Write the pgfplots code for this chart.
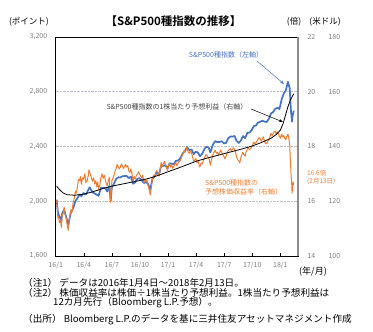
\documentclass[border=0pt]{standalone}
\usepackage{fontspec}
\setmainfont{Noto Sans CJK JP}[BoldFont={Noto Sans CJK JP Bold}]
\usepackage{pgfplots}
\pgfplotsset{compat=1.18}
\usepackage{pgfplotstable}
\usetikzlibrary{arrows.meta}
\definecolor{spblue}{RGB}{68,114,196}
\definecolor{sporange}{RGB}{237,125,49}
\definecolor{tickgray}{RGB}{128,128,128}
\definecolor{txtgray}{RGB}{64,64,64}
\definecolor{gridgray}{RGB}{185,190,200}
\definecolor{framegray}{RGB}{140,140,140}

% S&P500 index (left axis), x = months since 2016/1
\pgfplotstableread{
x y
0.10 2012
0.23 1922
0.39 1890
0.61 1859
0.68 1907
0.90 1940
1.14 1880
1.34 1829
1.62 1918
1.86 1948
2.10 2000
2.32 2022
2.55 2050
2.74 2036
2.97 2060
3.23 2048
3.47 2081
3.63 2102
3.93 2065
4.16 2057
4.39 2047
4.58 2040
4.84 2099
5.07 2099
5.30 2096
5.50 2071
5.73 2113
5.87 2001
6.00 2103
6.23 2130
6.45 2162
6.68 2175
6.90 2174
7.13 2183
7.35 2184
7.58 2184
7.81 2169
8.03 2180
8.27 2128
8.50 2139
8.73 2165
8.97 2168
9.19 2153
9.42 2133
9.65 2141
9.87 2126
10.10 2085
10.33 2164
10.57 2182
10.80 2213
11.03 2192
11.26 2260
11.48 2258
11.71 2263
11.94 2239
12.16 2277
12.39 2275
12.61 2271
12.84 2295
13.07 2297
13.32 2316
13.57 2351
13.82 2367
14.00 2396
14.29 2373
14.52 2378
14.74 2344
14.97 2363
15.20 2355
15.40 2329
15.67 2349
15.90 2384
16.13 2399
16.35 2390
16.52 2357
16.81 2416
17.03 2439
17.27 2432
17.50 2433
17.73 2438
17.97 2423
18.19 2425
18.42 2459
18.65 2473
18.87 2472
19.10 2477
19.32 2441
19.55 2426
19.77 2443
20.00 2476
20.23 2461
20.47 2500
20.70 2502
20.93 2519
21.16 2549
21.39 2553
21.61 2575
21.84 2581
22.07 2588
22.30 2582
22.53 2579
22.77 2602
23.00 2642
23.23 2652
23.45 2675
23.68 2683
23.90 2674
24.13 2743
24.35 2786
24.58 2810
24.81 2873
25.00 2822
25.04 2762
25.14 2649
25.25 2581
25.29 2620
25.43 2662
}\spxtable

% forward PER (right axis, times)
\pgfplotstableread{
x y
0.10 16.03
0.16 15.80
0.23 15.38
0.31 15.45
0.39 15.21
0.50 15.30
0.61 15.04
0.68 15.45
0.79 15.55
0.90 15.79
1.02 15.50
1.14 15.35
1.24 15.10
1.34 14.94
1.48 15.40
1.62 15.68
1.74 15.60
1.86 15.94
1.98 16.10
2.10 16.36
2.21 16.30
2.32 16.53
2.43 16.80
2.55 16.75
2.64 16.90
2.74 16.62
2.86 16.85
2.97 16.80
3.10 17.00
3.23 16.68
3.35 16.75
3.47 16.92
3.55 17.15
3.63 17.06
3.78 16.90
3.93 16.73
4.05 16.85
4.16 16.63
4.28 16.75
4.39 16.52
4.48 16.70
4.58 16.44
4.71 16.60
4.84 16.87
4.95 17.00
5.07 16.84
5.18 16.95
5.30 16.78
5.40 16.65
5.50 16.56
5.62 16.75
5.73 16.87
5.80 16.40
5.87 15.96
5.94 16.35
6.00 16.76
6.12 16.85
6.23 16.95
6.34 17.10
6.45 17.19
6.56 17.35
6.68 17.26
6.79 17.18
6.90 17.24
7.02 17.36
7.13 17.28
7.24 17.20
7.35 17.27
7.46 17.34
7.58 17.25
7.70 17.30
7.81 17.11
7.92 17.05
8.03 17.18
8.15 17.00
8.27 16.74
8.38 16.90
8.50 16.81
8.62 16.95
8.73 16.99
8.85 17.08
8.97 16.99
9.08 16.92
9.19 16.85
9.30 16.95
9.42 16.67
9.53 16.80
9.65 16.71
9.76 16.78
9.87 16.57
9.98 16.45
10.10 16.23
10.21 16.50
10.33 16.81
10.45 16.95
10.57 16.91
10.68 17.05
10.80 17.12
10.92 17.05
11.03 16.92
11.15 17.15
11.26 17.41
11.37 17.30
11.48 17.35
11.60 17.45
11.71 17.35
11.82 17.25
11.94 17.13
12.05 17.30
12.16 17.38
12.28 17.25
12.39 17.33
12.50 17.20
12.61 17.27
12.72 17.35
12.84 17.41
12.95 17.30
13.07 17.39
13.20 17.45
13.32 17.49
13.45 17.62
13.57 17.71
13.70 17.85
13.82 17.79
13.91 17.85
14.00 17.97
14.15 17.80
14.29 17.75
14.40 17.85
14.52 17.75
14.63 17.60
14.74 17.46
14.85 17.50
14.97 17.56
15.08 17.42
15.20 17.47
15.30 17.35
15.40 17.25
15.53 17.40
15.67 17.37
15.78 17.50
15.90 17.59
16.02 17.70
16.13 17.68
16.24 17.62
16.35 17.59
16.44 17.45
16.52 17.32
16.66 17.55
16.81 17.72
16.92 17.80
17.03 17.86
17.15 17.75
17.27 17.79
17.38 17.70
17.50 17.77
17.62 17.88
17.73 17.78
17.85 17.70
17.97 17.64
18.08 17.55
18.19 17.63
18.30 17.75
18.42 17.85
18.53 17.88
18.65 17.92
18.76 17.85
18.87 17.89
18.98 17.95
19.10 17.90
19.21 17.78
19.32 17.61
19.43 17.52
19.55 17.48
19.66 17.40
19.77 17.58
19.88 17.70
20.00 17.79
20.11 17.70
20.23 17.65
20.35 17.82
20.47 17.90
20.58 17.95
20.70 17.88
20.81 17.92
20.93 17.98
21.05 18.08
21.16 18.16
21.27 18.10
21.39 18.14
21.50 18.20
21.61 18.26
21.72 18.33
21.84 18.27
21.95 18.20
22.07 18.28
22.18 18.35
22.30 18.19
22.41 18.10
22.53 18.12
22.65 18.20
22.77 18.24
22.88 18.35
23.00 18.48
23.11 18.40
23.23 18.47
23.34 18.55
23.45 18.56
23.56 18.45
23.68 18.53
23.79 18.45
23.90 18.37
24.01 18.30
24.13 18.45
24.24 18.35
24.35 18.40
24.46 18.30
24.58 18.25
24.70 18.38
24.81 18.45
24.90 18.30
25.00 18.05
25.04 17.65
25.08 17.40
25.14 16.95
25.20 16.70
25.25 16.30
25.29 16.50
25.36 16.70
25.43 16.60
}\pertable

% forward EPS (right axis, USD)
\pgfplotstableread{
x y
0.10 125.5
0.40 124.3
0.80 123.0
1.20 122.4
2.00 122.2
3.00 122.6
4.00 123.5
5.00 124.6
6.00 125.5
7.00 126.2
8.00 126.9
9.00 127.6
10.00 128.4
11.00 129.5
12.00 130.8
13.00 132.0
14.00 133.3
15.00 134.6
16.00 135.6
17.00 136.5
18.00 137.4
19.00 138.3
20.00 139.2
21.00 140.2
22.00 141.5
23.00 143.0
23.60 144.5
24.00 146.0
24.30 148.5
24.55 151.5
24.80 154.5
25.05 156.8
25.30 158.5
25.43 159.3
}\epstable

\begin{document}
\begin{tikzpicture}
\path[use as bounding box] (0,0) rectangle (373pt,332pt);
\pgfplotsset{base/.style={
  at={(55.7pt,76pt)}, anchor=south west, scale only axis,
  width=242.3pt, height=219pt, xmin=0, xmax=25.88,
  /pgf/number format/assume math mode=true,
  tick label style={font=\fontsize{7}{8}\selectfont, text=tickgray},
  ytick style={draw=none},
}}
% left axis: S&P500
\begin{axis}[base,
  ymin=1600, ymax=3200, ytick={1600,2000,2400,2800,3200},
  yticklabel style={/pgf/number format/1000 sep={,}, xshift=-5pt},
  xtick={0,3,6,9,12,15,18,21,24},
  xticklabels={16/1,16/4,16/7,16/10,17/1,17/4,17/7,17/10,18/1},
  xticklabel style={yshift=-2pt},
  xtick pos=left, tick align=inside, major tick length=3pt,
  xtick style={black, line width=0.5pt},
  ymajorgrids, grid style={gridgray, densely dotted, line width=0.8pt},
  axis line style={black, line width=0.6pt},
]
\addplot[spblue, line width=1.7pt, line join=round] table[x=x,y=y]{\spxtable};
\end{axis}
% right axis 1: PER
\begin{axis}[base,
  ymin=14, ymax=22, ytick={14,16,18,20,22},
  axis x line=none, axis y line*=right,
  y axis line style={framegray, line width=1.6pt},
  yticklabel style={anchor=west, xshift=6pt},
]
\addplot[sporange, line width=1.0pt, line join=round] table[x=x,y=y]{\pertable};
\end{axis}
% right axis 2: EPS
\begin{axis}[base,
  ymin=100, ymax=180, ytick={100,120,140,160,180},
  axis x line=none, axis y line*=right,
  y axis line style={draw=none},
  yticklabel style={anchor=west, xshift=27pt},
]
\addplot[black, line width=0.8pt, line join=round] table[x=x,y=y]{\epstable};
\end{axis}

% titles and annotations
\node[font=\fontsize{11.5}{12}\selectfont\bfseries] at (173.5pt,311pt) {【S\&P500種指数の推移】};
\node[font=\fontsize{8.5}{9}\selectfont] at (29pt,310pt) {(ポイント)};
\node[font=\fontsize{8.5}{9}\selectfont] at (294pt,310pt) {(倍)};
\node[font=\fontsize{8.5}{9}\selectfont] at (325pt,310pt) {(米ドル)};

\node[spblue, font=\fontsize{7}{8}\selectfont] at (226pt,277pt) {S\&P500種指数（左軸）};
\draw[spblue, line width=0.5pt, -{Stealth[length=4pt,width=3pt]}] (257pt,271pt) -- (284pt,248pt);

\node[txtgray, font=\fontsize{7}{8}\selectfont] at (177pt,225pt) {S\&P500種指数の1株当たり予想利益（右軸）};
\draw[black, line width=0.5pt, -{Stealth[length=4pt,width=3pt]}] (251pt,223pt) -- (283pt,210pt);

\node[sporange, anchor=west, inner sep=0pt, font=\fontsize{7}{8}\selectfont] at (205pt,149pt) {S\&P500種指数の};
\node[sporange, anchor=west, inner sep=0pt, font=\fontsize{7}{8}\selectfont] at (205pt,140pt) {予想株価収益率（右軸）};

\node[sporange, anchor=west, inner sep=0pt, font=\fontsize{6.5}{7}\selectfont] at (307pt,159pt) {16.6倍};
\node[sporange, anchor=west, inner sep=0pt, font=\fontsize{6.5}{7}\selectfont] at (307pt,151pt) {(2月13日)};

\node[font=\fontsize{9}{10}\selectfont] at (313pt,60pt) {(年/月)};

\begin{scope}[every node/.style={anchor=west, inner sep=0pt, font=\fontsize{9.6}{10}\selectfont}]
\node at (23pt,49pt) {（注1） データは2016年1月4日～2018年2月13日。};
\node at (23pt,39pt) {（注2） 株価収益率は株価÷1株当たり予想利益。1株当たり予想利益は};
\node at (53pt,29pt) {12カ月先行（Bloomberg L.P.予想）。};
\node at (23pt,12pt) {（出所） Bloomberg L.P.のデータを基に三井住友アセットマネジメント作成};
\end{scope}
\end{tikzpicture}
\end{document}
